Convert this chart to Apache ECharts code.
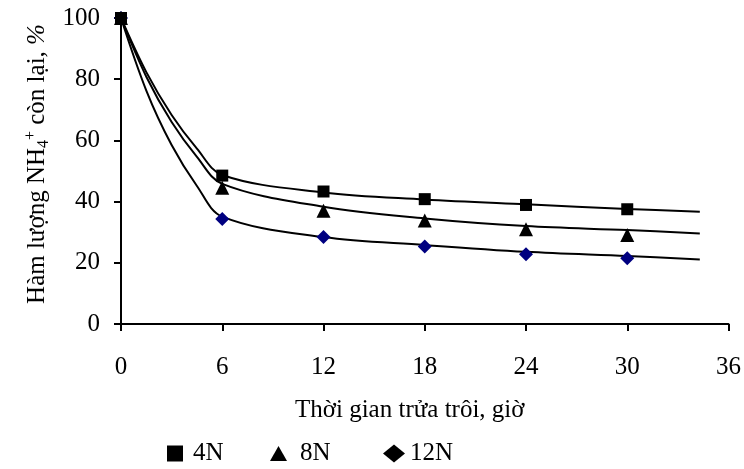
<!DOCTYPE html>
<html>
<head>
<meta charset="utf-8">
<script src="https://cdn.jsdelivr.net/npm/echarts@6/dist/echarts.min.js"></script>
<style>html,body{margin:0;padding:0;background:#fff}#c{width:744px;height:469px}</style>
</head>
<body>
<div id="c"></div>
<script>
// Measured points (time, hours -> % NH4+ remaining)
const hours = [0, 6, 12, 18, 24, 30];
const n4 = [100, 48.5, 43.3, 40.8, 38.9, 37.5];
const n8 = [100, 44.5, 37.0, 33.8, 31.0, 29.1];
const n12 = [100, 34.3, 28.4, 25.3, 22.8, 21.5];
// Trend curves
const curveHours = [0, 1.5, 3, 4.5, 6, 12, 18, 24, 30, 34.3];
const curve4 = [100, 82.3, 68.3, 57.3, 48.7, 43.0, 40.7, 39.1, 37.6, 36.7];
const curve8 = [100, 80.8, 66.0, 54.6, 45.8, 38.3, 34.5, 32.0, 30.7, 29.6];
const curve12 = [100, 76.3, 58.5, 45.1, 35.1, 28.4, 25.8, 23.6, 22.2, 21.1];
const xTicks = [0, 6, 12, 18, 24, 30, 36];
const yTicks = [0, 20, 40, 60, 80, 100];

const F = 'Liberation Serif, Times New Roman, serif';
const FS = 25;
const pair = (xs, ys) => xs.map((x, i) => [x, ys[i]]);
const chart = echarts.init(document.getElementById('c'), null, {renderer: 'canvas'});
const lineSeries = (name, xs, ys) => ({
  name: name, type: 'line', data: pair(xs, ys), smooth: 0.35, showSymbol: false,
  lineStyle: {color: '#000', width: 2}, z: 1, silent: true
});
const ptSeries = (name, ys, symbol, color, size, z) => ({
  name: name, type: 'scatter', data: pair(hours, ys), symbol: symbol,
  symbolSize: size, itemStyle: {color: color, opacity: 1}, z: z
});
const legendItem = (name, icon, left, w, h, pad) => ({
  data: [{name: name, icon: icon, itemStyle: {color: '#000', opacity: 1}}],
  left: left, top: 441, itemWidth: w, itemHeight: h, itemGap: 0, padding: 0,
  textStyle: {fontFamily: F, fontSize: FS, color: '#000', padding: [0, 0, 0, pad]},
  selectedMode: false
});
chart.setOption({
  backgroundColor: '#fff',
  animation: false,
  grid: {left: 121, right: 15, top: 18, bottom: 145},
  xAxis: {
    type: 'value', min: 0, max: 36, interval: 6,
    name: 'Thời gian trửa trôi, giờ', nameLocation: 'middle', nameGap: 74,
    nameTextStyle: {fontFamily: F, fontSize: FS, color: '#000', padding: [0, 30, 0, 0]},
    axisLine: {lineStyle: {color: '#000', width: 2}},
    axisTick: {show: true, inside: false, length: 7, lineStyle: {color: '#000', width: 2}},
    axisLabel: {fontFamily: F, fontSize: FS, color: '#000', margin: 31},
    splitLine: {show: false}
  },
  yAxis: {
    type: 'value', min: 0, max: 100, interval: 20,
    name: '{a|Hàm lượng NH}{sub|4}{sup|+}{a| còn lại, }{i|%}',
    nameLocation: 'middle', nameGap: 66, nameRotate: 90,
    nameTextStyle: {
      fontFamily: F, fontSize: FS, color: '#000', padding: [0, 0, 0, 14],
      rich: {
        a: {fontFamily: F, fontSize: FS, color: '#000'},
        sub: {fontFamily: F, fontSize: 16, color: '#000', padding: [12, 0, 0, 0]},
        sup: {fontFamily: F, fontSize: 16, color: '#000', padding: [0, 0, 14, 0]},
        i: {fontFamily: F, fontSize: FS, color: '#000', fontStyle: 'italic'}
      }
    },
    axisLine: {show: true, lineStyle: {color: '#000', width: 2}},
    axisTick: {show: true, inside: false, length: 7, lineStyle: {color: '#000', width: 2}},
    axisLabel: {fontFamily: F, fontSize: FS, color: '#000', margin: 21},
    splitLine: {show: false}
  },
  legend: [
    legendItem('4N', 'rect', 167, 16, 16, 5),
    legendItem('8N', 'triangle', 270, 17, 15, 8),
    legendItem('12N', 'diamond', 383, 22, 18, 0)
  ],
  series: [
    lineSeries('c4', curveHours, curve4),
    lineSeries('c8', curveHours, curve8),
    lineSeries('c12', curveHours, curve12),
    ptSeries('12N', n12, 'diamond', '#000080', 14, 3),
    ptSeries('8N', n8, 'triangle', '#000', 14, 4),
    ptSeries('4N', n4, 'rect', '#000', 12, 5)
  ]
});
</script>
</body>
</html>
